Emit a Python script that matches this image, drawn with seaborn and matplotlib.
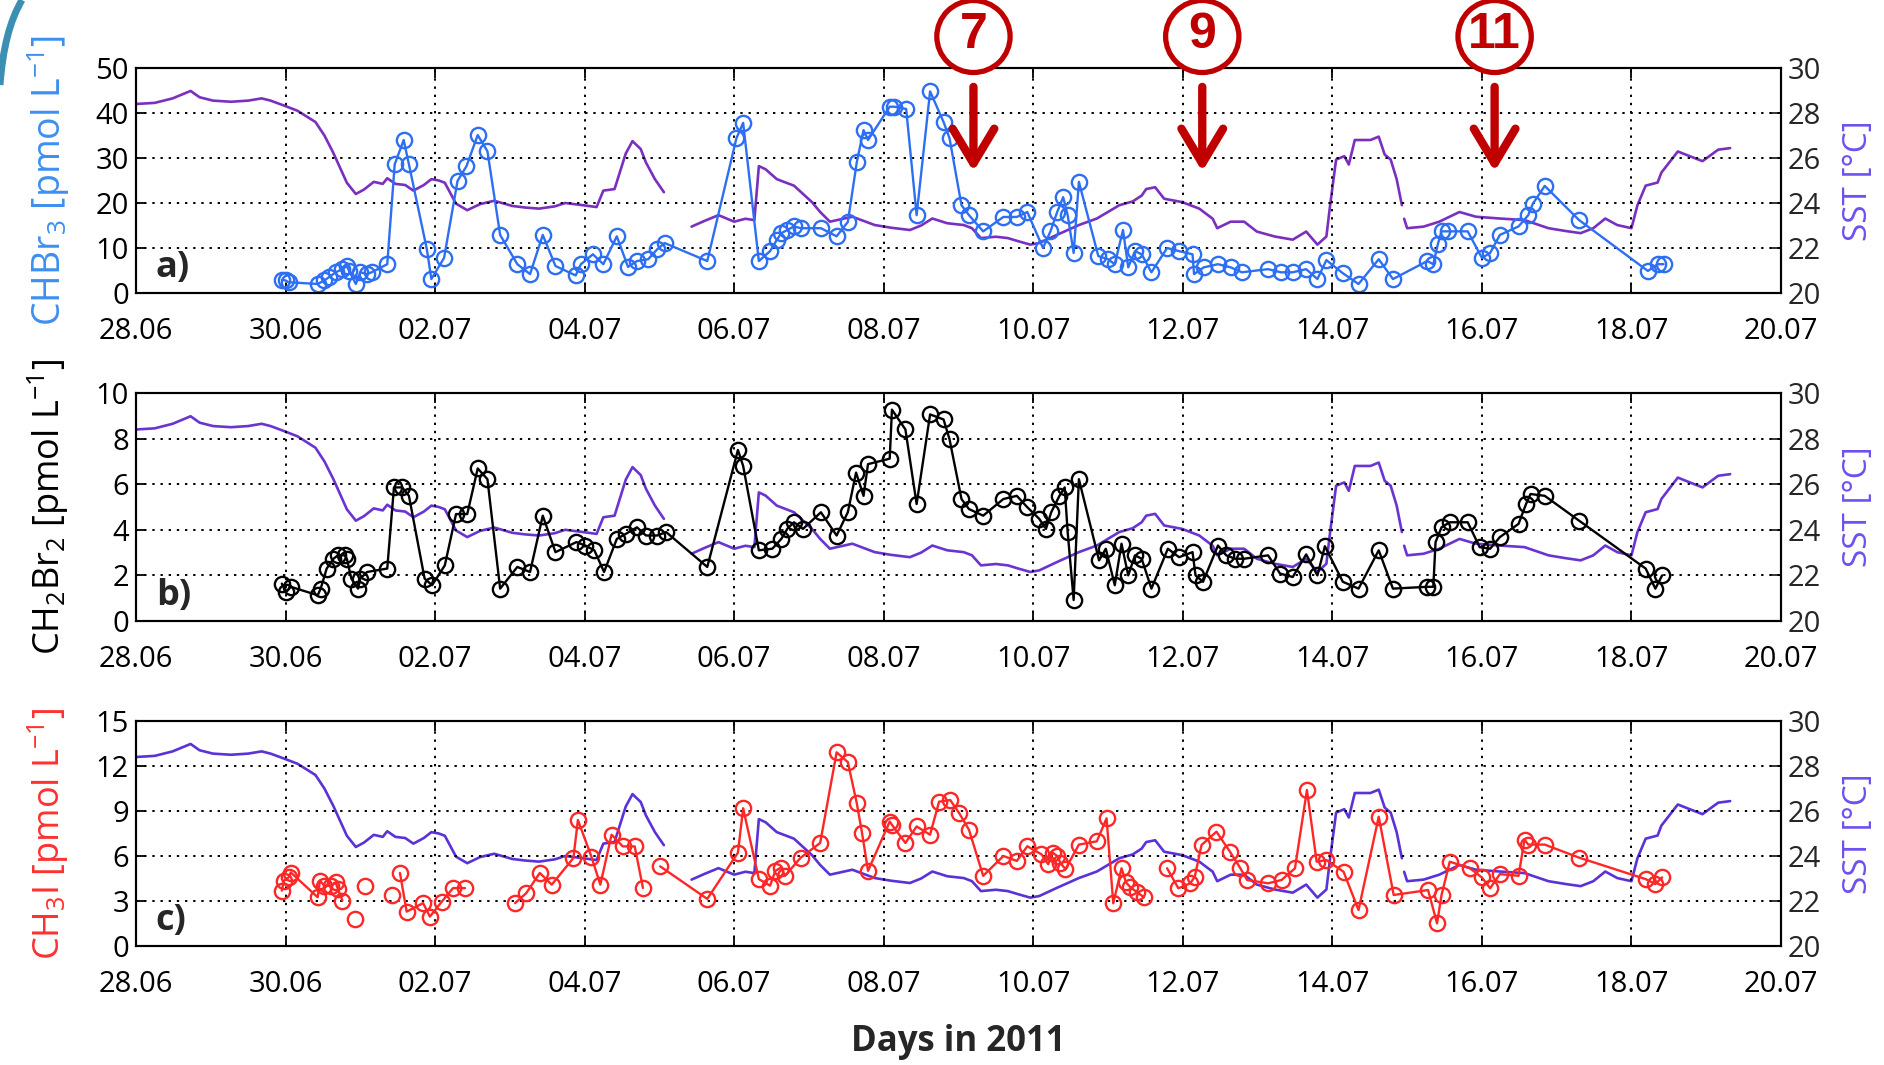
import numpy as np
import pandas as pd
import matplotlib
matplotlib.use("Agg")
import matplotlib.pyplot as plt
import seaborn as sns
from matplotlib.patches import Ellipse, PathPatch
from matplotlib.path import Path

# ---------------- data (x = days after 28.06.2011 00:00) ----------------
tick_days = [0, 2, 4, 6, 8, 10, 12, 14, 16, 18, 20, 22]
tick_labels = ["28.06", "30.06", "02.07", "04.07", "06.07", "08.07",
               "10.07", "12.07", "14.07", "16.07", "18.07", "20.07"]

sst_t = [0.0, 0.25, 0.49, 0.73, 0.85, 1.03, 1.27, 1.5, 1.68, 1.8, 1.98, 2.16, 2.4, 2.52,
         2.64, 2.82, 2.94, 3.05, 3.18, 3.3, 3.36, 3.47, 3.6, 3.71, 3.85, 3.95, 4.05, 4.13,
         4.28, 4.43, 4.6, 4.79, 5.03, 5.2, 5.39, 5.6, 5.74, 5.98, 6.16, 6.25, 6.4, 6.55,
         6.64, 6.75, 6.82, 6.94, 7.06, 7.25,
         7.43, 7.6, 7.79, 8.0, 8.15, 8.27, 8.33, 8.42, 8.57, 8.8, 9.04, 9.15, 9.28, 9.58,
         9.88, 10.1, 10.35, 10.5, 10.65, 10.85, 11.07, 11.18, 11.3, 11.5, 11.66, 11.8,
         11.96, 12.08, 12.32, 12.61, 12.85, 13.15, 13.33, 13.45, 13.51, 13.63, 13.75,
         13.99, 14.22, 14.4, 14.46, 14.64, 14.82, 14.99, 15.23, 15.47, 15.65, 15.8, 15.92,
         15.97, 16.05, 16.16, 16.22, 16.3, 16.51, 16.62, 16.7, 16.78, 16.86, 16.93, 16.945,
         16.96, 17.0, 17.22, 17.43, 17.7, 17.92, 18.24, 18.57, 18.89, 19.11, 19.32, 19.49,
         19.65, 19.81, 20.0, 20.08, 20.19, 20.35, 20.4, 20.62, 20.78, 20.95, 21.16, 21.32]
sst_v = [28.40, 28.45, 28.65, 28.98, 28.7, 28.55, 28.5, 28.55, 28.65, 28.55, 28.33, 28.1,
         27.6, 27.0, 26.22, 24.9, 24.4, 24.6, 24.94, 24.85, 25.1, 24.85, 24.8, 24.55, 24.8,
         25.06, 25.0, 24.9, 23.97, 23.68, 23.95, 24.1, 23.87, 23.8, 23.75, 23.85, 24.0,
         23.9, 23.82, 24.55, 24.62, 26.2, 26.75, 26.4, 25.8, 25.06, 24.48, np.nan,
         22.95, 23.2, 23.46, 23.17, 23.3, 23.24, 25.64, 25.5, 25.06, 24.77, 24.04, 23.6,
         23.17, 23.39, 23.02, 22.9, 22.8, 23.0, 23.31, 23.1, 23.02, 22.88, 22.44, 22.5,
         22.44, 22.3, 22.15, 22.22, 22.59, 23.02, 23.31, 23.9, 24.07, 24.33, 24.62, 24.7,
         24.19, 24.04, 23.75, 23.3, 22.88, 23.17, 23.17, 22.73, 22.51, 22.37, 22.73, 22.15,
         22.51, 23.9, 25.93, 26.08, 25.71, 26.8, 26.8, 26.95, 26.15, 25.93, 25.06, 23.9,
         np.nan, 23.3, 22.88, 22.95, 23.17, 23.6, 23.39, 23.31, 23.24, 22.88, 22.76, 22.66,
         22.88, 23.31, 23.02, 22.88, 23.9, 24.77, 24.91, 25.35, 26.29, 26.08, 25.86, 26.37,
         26.44]

chbr3_t = [1.95, 2.0, 2.04, 2.43, 2.52, 2.58, 2.67, 2.76, 2.82, 2.85, 2.94, 3.0, 3.09, 3.15,
           3.36, 3.46, 3.58, 3.65, 3.89, 3.95, 4.12, 4.3, 4.42, 4.57, 4.7, 4.87, 5.1, 5.27,
           5.44, 5.61, 5.88, 5.95, 6.11, 6.25, 6.43, 6.58, 6.7, 6.85, 6.97, 7.07, 7.64, 8.03,
           8.12, 8.33, 8.48, 8.57, 8.63, 8.71, 8.8, 8.89, 9.16, 9.37, 9.52, 9.64, 9.73, 9.79,
           10.08, 10.14, 10.3, 10.44, 10.62, 10.8, 10.88, 11.04, 11.14, 11.33, 11.6, 11.78,
           11.92, 12.13, 12.23, 12.32, 12.4, 12.46, 12.54, 12.61, 12.87, 13.0, 13.09, 13.2,
           13.27, 13.36, 13.45, 13.58, 13.79, 13.95, 14.13, 14.15, 14.28, 14.47, 14.64, 14.79,
           15.14, 15.31, 15.47, 15.65, 15.8, 15.92, 16.14, 16.35, 16.62, 16.81, 17.27, 17.35,
           17.41, 17.46, 17.54, 17.81, 18.0, 18.11, 18.24, 18.49, 18.62, 18.68, 18.84, 19.3,
           20.22, 20.35, 20.43]
chbr3_v = [2.9, 2.8, 2.4, 2.0, 2.8, 3.5, 4.6, 5.3, 6.0, 4.9, 2.0, 4.6, 4.2, 4.6, 6.4, 28.6,
           34.0, 28.6, 9.7, 3.1, 7.8, 24.9, 28.2, 35.1, 31.5, 12.9, 6.4, 4.2, 12.9, 6.0, 3.9,
           6.4, 8.6, 6.4, 12.6, 5.8, 7.1, 7.5, 9.7, 11.1, 7.1, 34.4, 37.8, 7.1, 9.3, 11.8,
           13.3, 14.0, 14.8, 14.4, 14.4, 12.6, 15.8, 29.1, 36.2, 34.0, 41.4, 41.4, 40.9, 17.3,
           44.8, 38.0, 34.4, 19.5, 17.3, 13.7, 16.9, 16.9, 18.0, 10.0, 13.7, 18.0, 21.3, 17.3,
           8.9, 24.7, 8.2, 7.5, 6.4, 14.0, 5.7, 9.3, 8.6, 4.6, 10.0, 9.3, 8.6, 4.2, 5.7, 6.4,
           5.7, 4.6, 5.3, 4.6, 4.6, 5.3, 3.1, 7.3, 4.4, 2.0, 7.5, 3.1, 7.1, 6.4, 10.8, 13.7,
           13.7, 13.7, 7.8, 8.9, 12.9, 14.8, 17.3, 19.8, 23.8, 16.2, 4.9, 6.4, 6.4]

ch2br2_t = [1.95, 2.01, 2.07, 2.43, 2.47, 2.55, 2.64, 2.7, 2.79, 2.82, 2.88, 2.97, 3.0, 3.09,
            3.36, 3.45, 3.56, 3.65, 3.86, 3.96, 4.13, 4.28, 4.43, 4.57, 4.7, 4.87, 5.1, 5.27,
            5.44, 5.61, 5.89, 6.01, 6.13, 6.26, 6.43, 6.55, 6.7, 6.82, 6.97, 7.09, 7.64, 8.05,
            8.12, 8.33, 8.51, 8.63, 8.71, 8.8, 8.92, 9.16, 9.37, 9.52, 9.63, 9.73, 9.79, 10.08,
            10.11, 10.29, 10.44, 10.62, 10.8, 10.88, 11.04, 11.14, 11.33, 11.6, 11.78, 11.92,
            12.08, 12.17, 12.24, 12.35, 12.42, 12.46, 12.54, 12.61, 12.88, 12.97, 13.09, 13.18,
            13.27, 13.36, 13.45, 13.58, 13.8, 13.95, 14.13, 14.17, 14.27, 14.47, 14.58, 14.7,
            14.82, 15.14, 15.3, 15.47, 15.65, 15.8, 15.9, 16.14, 16.35, 16.62, 16.81, 17.27,
            17.35, 17.38, 17.46, 17.57, 17.81, 17.97, 18.11, 18.24, 18.49, 18.59, 18.65, 18.84,
            19.3, 20.19, 20.32, 20.41]
ch2br2_v = [1.64, 1.28, 1.5, 1.13, 1.42, 2.3, 2.73, 2.88, 2.88, 2.73, 1.86, 1.42, 1.86, 2.15,
            2.3, 5.86, 5.86, 5.49, 1.86, 1.57, 2.44, 4.69, 4.69, 6.69, 6.22, 1.42, 2.37, 2.15,
            4.62, 3.02, 3.46, 3.31, 3.1, 2.15, 3.6, 3.82, 4.11, 3.75, 3.75, 3.9, 2.37, 7.5, 6.8,
            3.1, 3.17, 3.6, 4.04, 4.33, 4.04, 4.77, 3.75, 4.77, 6.51, 5.49, 6.88, 7.12, 9.27,
            8.4, 5.13, 9.06, 8.84, 7.97, 5.35, 4.91, 4.62, 5.35, 5.49, 4.99, 4.48, 4.04, 4.77,
            5.49, 5.86, 3.9, 0.92, 6.22, 2.66, 3.17, 1.57, 3.39, 2.0, 2.88, 2.73, 1.42, 3.17,
            2.8, 3.02, 2.0, 1.72, 3.31, 2.88, 2.73, 2.73, 2.88, 2.08, 1.93, 2.92, 2.0, 3.28,
            1.72, 1.42, 3.1, 1.42, 1.5, 1.5, 3.46, 4.11, 4.33, 4.33, 3.24, 3.17, 3.68, 4.26,
            5.13, 5.57, 5.49, 4.4, 2.3, 1.42, 2.0]

ch3i_t = [1.95, 1.98, 2.04, 2.07, 2.43, 2.46, 2.52, 2.61, 2.67, 2.7, 2.76, 2.85, 2.93, 3.0,
          3.06, 3.2, 3.42, 3.48, 3.53, 3.62, 3.84, 3.93, 4.09, 4.24, 4.4, 4.7, 5.07, 5.22,
          5.4, 5.56, 5.85, 5.91, 6.09, 6.21, 6.36, 6.51, 6.67, 6.78, 6.9, 7.01, 7.64, 8.05,
          8.12, 8.33, 8.48, 8.55, 8.63, 8.68, 8.89, 9.15, 9.37, 9.52, 9.64, 9.71, 9.79, 10.08,
          10.11, 10.29, 10.44, 10.62, 10.74, 10.89, 11.01, 11.14, 11.33, 11.6, 11.78, 11.92,
          12.11, 12.2, 12.26, 12.32, 12.36, 12.43, 12.61, 12.85, 12.98, 13.07, 13.18, 13.24,
          13.3, 13.39, 13.48, 13.6, 13.79, 13.94, 14.1, 14.16, 14.25, 14.45, 14.63, 14.77,
          14.86, 15.14, 15.32, 15.5, 15.66, 15.79, 15.92, 16.15, 16.35, 16.62, 16.82, 17.28,
          17.4, 17.46, 17.57, 17.84, 18.0, 18.11, 18.24, 18.49, 18.57, 18.62, 18.84, 19.3,
          20.19, 20.32, 20.41]
ch3i_v = [3.69, 4.35, 4.57, 4.9, 3.25, 4.35, 4.02, 4.02, 4.24, 3.8, 3.03, np.nan, 1.8, np.nan,
          4.0, np.nan, 3.4, np.nan, 4.87, 2.29, 2.86, 1.96, 2.96, 3.86, 3.86, np.nan, 2.86,
          3.53, 4.87, 4.09, 5.87, 8.4, 5.96, 4.09, 7.42, 6.64, 6.64, 3.87, np.nan, 5.31, 3.14,
          6.22, 9.18, 4.46, 4.02, 5.01, 5.23, 4.68, 5.89, 6.87, 12.91, 12.26, 9.51, 7.53,
          5.01, 8.3, 8.08, 6.87, 7.97, 7.42, 9.62, 9.73, 8.85, 7.75, 4.68, 6.0, 5.67, 6.65,
          6.11, 5.45, 6.22, 6.0, 5.56, 5.12, 6.76, 6.98, 8.51, 2.85, 5.18, 4.24, 3.91, 3.58,
          3.25, np.nan, 5.18, 3.85, 4.18, 4.62, 6.73, 7.62, 6.29, 5.18, 4.4, 4.18, 4.4, 5.18,
          10.4, 5.62, 5.73, 4.95, 2.4, 8.62, 3.4, 3.73, 1.51, 3.4, 5.62, 5.18, 4.57, 3.85,
          4.79, 4.68, 7.09, 6.76, 6.76, 5.89, 4.46, 4.13, 4.57]

event_labels = ["7", "9", "11"]
event_days = [11.2, 14.26, 18.17]


def seg_frame(t, v):
    df = pd.DataFrame({"t": t, "v": v})
    df["seg"] = df["v"].isna().cumsum()
    return df.dropna()


# ---------------- style ----------------
sns.set_style("ticks")
plt.rcParams["font.family"] = ["Open Sans", "DejaVu Sans"]
plt.rcParams["mathtext.fontset"] = "custom"
plt.rcParams["mathtext.rm"] = "Open Sans"
plt.rcParams["mathtext.default"] = "regular"

fig = plt.figure(figsize=(18.84, 10.65), dpi=100)
W, H = 1884.0, 1065.0
L, R = 136 / W, 1781 / W
panels = [
    dict(top=68, bot=293, t=chbr3_t, v=chbr3_v, col="#2d6ff2", lab_col="#3d8ff0",
         ylim=(0, 50), ystep=10, sst_col="#7a2fbe", lab_size=27,
         ylabel=r"CHBr$_3$ [pmol L$^{-1}$]", tag="a)"),
    dict(top=393, bot=621, t=ch2br2_t, v=ch2br2_v, col="black", lab_col="black",
         ylim=(0, 10), ystep=2, sst_col="#6a34d2", lab_size=26,
         ylabel=r"CH$_2$Br$_2$ [pmol L$^{-1}$]", tag="b)"),
    dict(top=721, bot=946, t=ch3i_t, v=ch3i_v, col="#ff2626", lab_col="#ff3030",
         ylim=(0, 15), ystep=3, sst_col="#5a32d8", lab_size=26,
         ylabel=r"CH$_3$I [pmol L$^{-1}$]", tag="c)"),
]

sst_df = seg_frame(sst_t, sst_v)
dot = (0, (1.2, 3.0))
axes = []
for p in panels:
    ax = fig.add_axes([L, 1 - p["bot"] / H, R - L, (p["bot"] - p["top"]) / H])
    ax2 = ax.twinx()
    sns.lineplot(data=sst_df, x="t", y="v", units="seg", estimator=None, sort=False,
                 color=p["sst_col"], lw=1.9, ax=ax2, legend=False)
    cdf = seg_frame(p["t"], p["v"])
    sns.lineplot(data=cdf, x="t", y="v", units="seg", estimator=None, sort=False,
                 color=p["col"], lw=1.7, marker="o", markersize=11,
                 markerfacecolor="none", markeredgecolor=p["col"], markeredgewidth=1.7,
                 ax=ax, legend=False)
    ax.set_zorder(ax2.get_zorder() + 1)
    ax.patch.set_visible(False)

    ax.set_xlim(0, 22)
    ax.set_ylim(*p["ylim"])
    ax.set_yticks(np.arange(p["ylim"][0], p["ylim"][1] + 0.01, p["ystep"]))
    ax.set_xticks(tick_days)
    ax.set_xticklabels(tick_labels)
    ax2.set_ylim(20, 30)
    ax2.set_yticks([20, 22, 24, 26, 28, 30])
    ax.grid(True, color="black", linestyle=dot, linewidth=1.4)
    ax.tick_params(axis="both", direction="in", length=7, width=1.3, top=True,
                   labelsize=21, colors="black")
    ax.tick_params(axis="x", pad=17)
    ax.tick_params(axis="y", pad=5)
    ax2.tick_params(axis="y", direction="in", length=7, width=1.3, labelsize=21, pad=5)
    for a in (ax, ax2):
        for s in a.spines.values():
            s.set_color("black")
            s.set_linewidth(1.5)
    ax.set_xlabel("")
    ax.set_ylabel(p["ylabel"], color=p["lab_col"], fontsize=p["lab_size"])
    ax.yaxis.label.set_verticalalignment("center")
    ax.yaxis.set_label_coords(-0.0535, 0.5)
    ax2.set_ylabel("SST [°C]", color="#6e4ff0", fontsize=24)
    ax2.yaxis.label.set_verticalalignment("center")
    ax2.yaxis.set_label_coords(1.047, 0.5)
    ax.text(0.012, 0.11, p["tag"], transform=ax.transAxes, fontsize=26,
            fontweight="bold", va="center", ha="left", zorder=6)
    axes.append(ax)

fig.text((L + R) / 2, 1 - 1042 / H, "Days in 2011", ha="center", va="center",
         fontsize=25, fontweight="bold")

# station markers on panel a
axa = axes[0]
dark_red = "#c00000"
for lab, d in zip(event_labels, event_days):
    axa.annotate("", xy=(d, 27.0), xytext=(d, 45.8), xycoords="data",
                 arrowprops=dict(arrowstyle="->,head_length=1.0,head_width=0.6",
                                 mutation_scale=25, lw=6, color=dark_red,
                                 shrinkA=0, shrinkB=0),
                 annotation_clip=False, zorder=8)
    e = Ellipse((d, 57.0), width=0.98, height=16.0, transform=axa.transData,
                facecolor="white", edgecolor=dark_red, lw=3.8, clip_on=False, zorder=9)
    axa.add_patch(e)
    axa.text(d, 57.3, lab, ha="center", va="center", fontsize=36, fontweight="bold",
             color=dark_red, clip_on=False, zorder=10, family=["Liberation Sans", "DejaVu Sans"])

# slide decoration (teal arc, top-left corner)
verts = [(22 / W, 1.0), (4 / W, 1 - 30 / H), (0.0, 1 - 85 / H)]
arc = PathPatch(Path(verts, [Path.MOVETO, Path.CURVE3, Path.CURVE3]),
                transform=fig.transFigure, fill=False, edgecolor="#3a8fb3", lw=5)
fig.add_artist(arc)

fig.savefig("out.png", dpi=100, facecolor="white")
